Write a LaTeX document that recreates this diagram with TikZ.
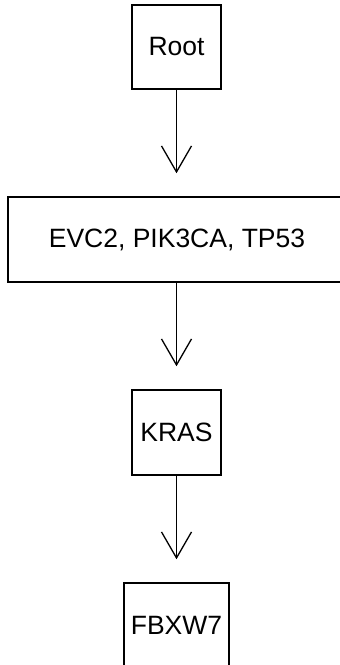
\documentclass[tikz,border=0pt]{standalone}
\usepackage{fontspec}
\setmainfont{Liberation Sans}
\usetikzlibrary{arrows.meta}
\begin{document}
\begin{tikzpicture}[x=1pt,y=1pt,
  box/.style={draw=black, line width=1.5pt, inner sep=0pt, font=\fontsize{26.5}{30}\selectfont},
  link/.style={draw=black, line width=1.3pt, shorten >=23pt,
    -{Straight Barb[length=26pt,width=30pt,line width=1.3pt]}}]
\useasboundingbox (0,0) rectangle (340,665);
\node[box, minimum width=89pt, minimum height=84pt] (root) at (176.5,618) {Root};
\node[box, minimum width=338pt, minimum height=85pt] (evc) at (177,425.5) {EVC2, PIK3CA, TP53};
\node[box, minimum width=89pt, minimum height=85pt] (kras) at (176.5,232.5) {KRAS};
\node[box, minimum width=105pt, minimum height=85pt] (fbxw) at (176.5,39.5) {FBXW7};
\draw[link] (root.south) -- (root.south |- evc.north);
\draw[link] (evc.south -| root.south) -- (kras.north);
\draw[link] (kras.south) -- (fbxw.north);
\end{tikzpicture}
\end{document}
